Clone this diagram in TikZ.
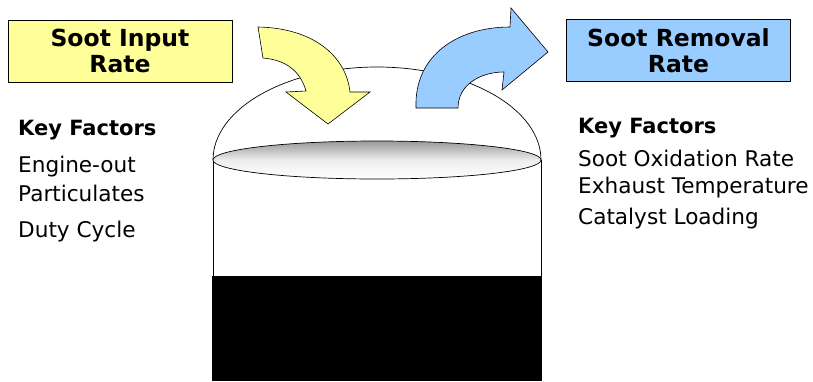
\documentclass[tikz,border=0pt]{standalone}
\usepackage{fontspec}
\setmainfont{DejaVu Sans}
\definecolor{inputyellow}{HTML}{FFFF99}
\definecolor{removalblue}{HTML}{99CCFF}

\begin{document}
\begin{tikzpicture}[x=1pt,y=-1pt,
  ratebox/.style={draw, line width=0.8pt, minimum width=224pt, minimum height=62pt,
    align=center, font=\fontsize{23.5}{26}\selectfont\bfseries, inner sep=0pt},
  factor/.style={anchor=west, inner sep=0pt, font=\fontsize{21.6}{24}\selectfont},
  factorhead/.style={factor, font=\fontsize{21}{24}\selectfont\bfseries}]

\useasboundingbox (0,0) rectangle (813,381);

%% rate boxes
\node [ratebox, fill=inputyellow] (inbox) at (120,51) {Soot Input\\Rate};
\node [ratebox, fill=removalblue] (outbox) at (678.5,50.5) {Soot Removal\\Rate};

%% filter: dome, walls, soot layer
\draw [line width=0.7pt] (213,160) arc [start angle=180, end angle=0, x radius=164pt, y radius=93pt];
\draw [line width=0.7pt] (213,160) -- (213,380);
\draw [line width=0.7pt] (541,160) -- (541,380);
\fill [black] (212,276) rectangle (542,381);
\shade [top color=black!40, bottom color=white, middle color=black!7, draw, line width=0.7pt]
  (377,160) ellipse [x radius=164pt, y radius=19pt];

%% soot coming in
\draw [fill=inputyellow, line width=0.6pt] (258,27) .. controls (312,28) and (346,55) .. (350,92)
  -- (370,92) -- (328,124) -- (286,92) -- (306,91)
  .. controls (300,70) and (285,60) .. (263,58) -- cycle;

%% soot going out
\draw [fill=removalblue, line width=0.6pt] (416,108) .. controls (414,55) and (458,27) .. (510,27)
  -- (511,8) -- (548,52) -- (502,90) -- (504,72)
  .. controls (480,72) and (458,85) .. (458,108) -- cycle;

%% left factors
\node [factorhead] (lkey) at (18,130) {Key Factors};
\node [factor] (lf1) at (18,167) {Engine-out};
\node [factor] (lf2) at (18,193) {Particulates};
\node [factor] (lf3) at (18,232) {Duty Cycle};

%% right factors
\node [factorhead] (rkey) at (578,128) {Key Factors};
\node [factor] (rf1) at (578,158) {Soot Oxidation Rate};
\node [factor] (rf2) at (578,188) {Exhaust Temperature};
\node [factor] (rf3) at (578,219) {Catalyst Loading};

\end{tikzpicture}
\end{document}
